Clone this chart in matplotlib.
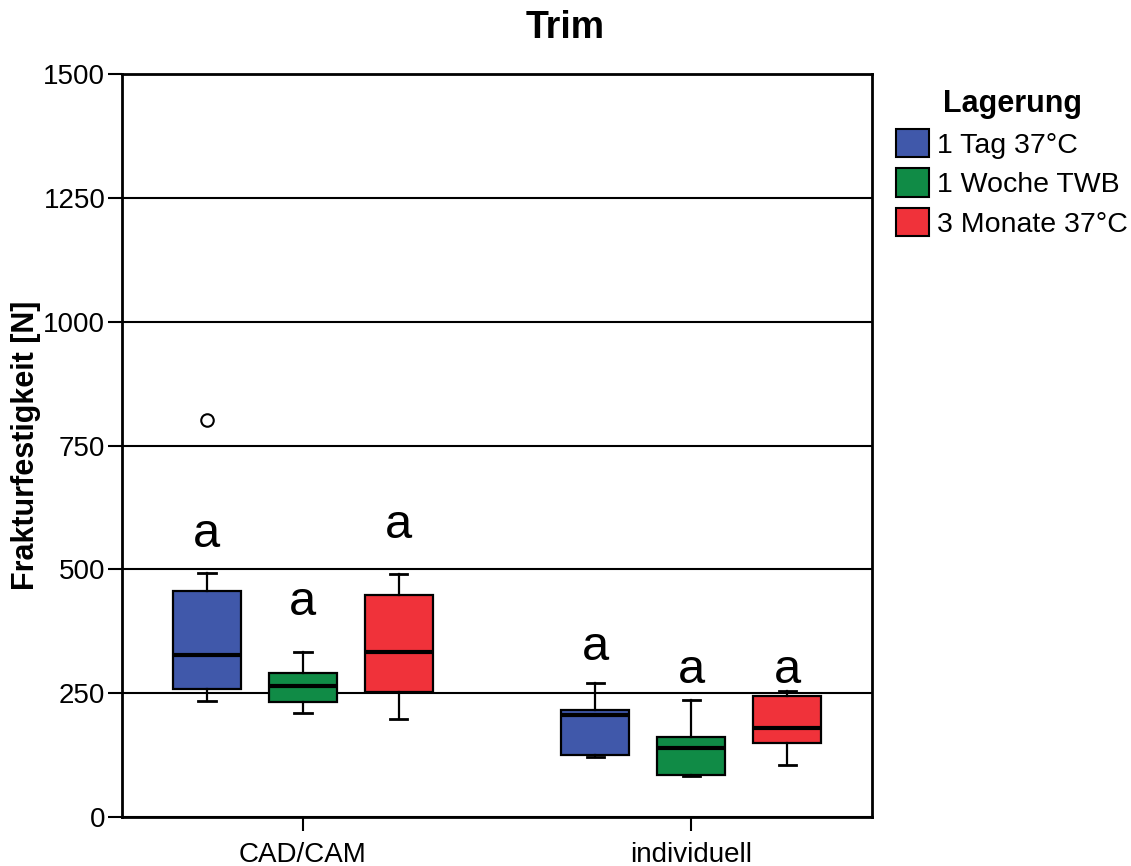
import matplotlib
matplotlib.use("Agg")
import matplotlib.pyplot as plt
from matplotlib.patches import Patch

plt.rcParams['font.family'] = ['Liberation Sans', 'DejaVu Sans']

# data (N)
groups = ['CAD/CAM', 'individuell']
storage = ['1 Tag 37°C', '1 Woche TWB', '3 Monate 37°C']
colors = ['#4058AA', '#108B46', '#F0323A']

whislo = [[235, 209, 198], [122, 82, 104]]
q1     = [[258, 233, 252], [125, 85, 150]]
med    = [[328, 265, 334], [205, 139, 180]]
q3     = [[457, 291, 449], [217, 161, 245]]
whishi = [[493, 333, 491], [270, 237, 255]]
fliers = [[[801], [], []], [[], [], []]]

# letters above the boxes (baseline heights)
letters = [['a', 'a', 'a'], ['a', 'a', 'a']]
letter_y = [[546, 408, 563], [316, 270, 270]]

offset = 0.247
box_w = 0.175

fig = plt.figure(figsize=(11.31, 8.66), dpi=100)
ax = fig.add_axes([0.1079, 0.0566, 0.6627, 0.8579])

for g in range(len(groups)):
    for k in range(len(storage)):
        pos = g + (k - 1) * offset
        st = dict(med=med[g][k], q1=q1[g][k], q3=q3[g][k],
                  whislo=whislo[g][k], whishi=whishi[g][k], fliers=fliers[g][k])
        ax.bxp([st], positions=[pos], widths=box_w, patch_artist=True,
               showfliers=True, capwidths=0.045,
               boxprops=dict(facecolor=colors[k], edgecolor='black', linewidth=1.6),
               medianprops=dict(color='black', linewidth=3),
               whiskerprops=dict(color='black', linewidth=1.6),
               capprops=dict(color='black', linewidth=2),
               flierprops=dict(marker='o', markerfacecolor='white', markeredgecolor='black',
                               markersize=9, markeredgewidth=1.5))
        ax.text(pos, letter_y[g][k], letters[g][k], ha='center', va='baseline', fontsize=35)

ax.set_xlim(-0.465, 1.4635)
ax.set_ylim(0, 1500)
ax.set_xticks([0, 1])
ax.set_xticklabels(groups)
ax.set_yticks([0, 250, 500, 750, 1000, 1250, 1500])
ax.yaxis.grid(True, color='black', linewidth=1.5)
ax.set_axisbelow(True)
for s in ax.spines.values():
    s.set_linewidth(2)
ax.tick_params(axis='both', labelsize=20, length=10, width=1.5, direction='out', pad=2)
ax.tick_params(axis='x', pad=8)
ax.set_ylabel('Frakturfestigkeit [N]', fontsize=22, fontweight='bold', labelpad=2)

fig.suptitle('Trim', fontsize=27, fontweight='bold', y=0.988)

handles = [Patch(facecolor=c, edgecolor='black', linewidth=1.5) for c in colors]
leg = fig.legend(handles, storage, loc='upper left', bbox_to_anchor=(0.7686, 0.928),
                 frameon=False, fontsize=20.5, title='Lagerung',
                 title_fontproperties={'weight': 'bold', 'size': 22},
                 handlelength=1.15, handleheight=1.15, handletextpad=0.3,
                 labelspacing=0.34, borderaxespad=0, borderpad=0.945)

fig.savefig('out.png', dpi=100)
